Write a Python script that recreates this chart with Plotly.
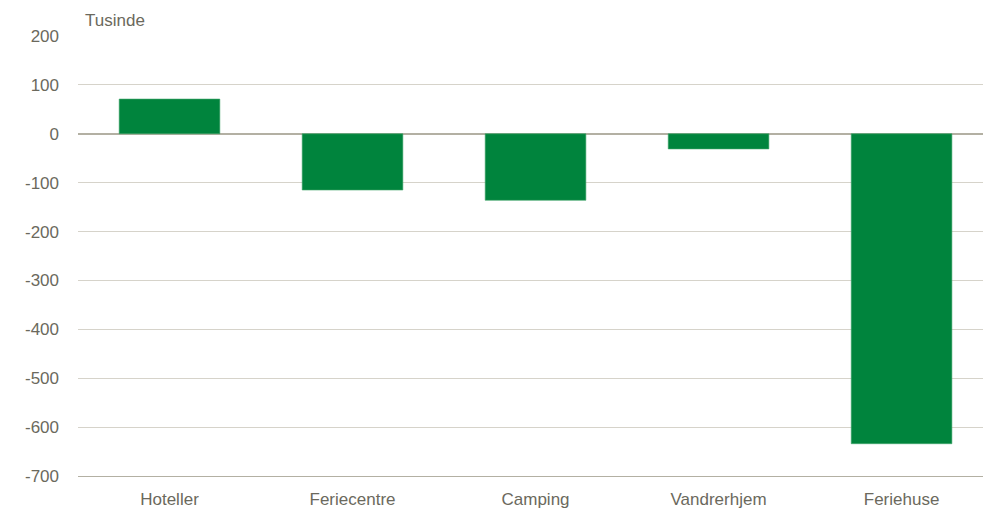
import plotly.graph_objects as go

categories = ["Hoteller", "Feriecentre", "Camping", "Vandrerhjem", "Feriehuse"]
values = [71, -115, -136, -31, -634]
y_ticks = [200, 100, 0, -100, -200, -300, -400, -500, -600, -700]
y_unit_label = "Tusinde"

text_color = "#6b695d"
font = dict(family="Liberation Sans, Arial, sans-serif", size=17, color=text_color)

fig = go.Figure(
    go.Bar(
        x=categories,
        y=values,
        marker=dict(color="#00843D", line=dict(color="#3fa56a", width=0.6)),
        width=0.55,
        hoverinfo="x+y",
    )
)

fig.update_layout(
    width=983,
    height=510,
    margin=dict(l=78, r=0, t=36, b=34, autoexpand=False),
    paper_bgcolor="white",
    plot_bgcolor="white",
    font=font,
    showlegend=False,
    xaxis=dict(
        type="category",
        range=[-0.5, 4.445],
        automargin=False,
        showgrid=False,
        zeroline=False,
        showline=True,
        linecolor="#b3b0a3",
        linewidth=1,
        ticks="",
        ticklabelstandoff=8,
        tickfont=font,
    ),
    yaxis=dict(
        range=[-700, 200],
        automargin=False,
        tickvals=y_ticks,
        ticktext=[str(v) for v in y_ticks],
        showgrid=True,
        gridcolor="#d6d3ca",
        gridwidth=1,
        zeroline=True,
        zerolinecolor="#b3b0a3",
        zerolinewidth=2,
        ticks="",
        ticklabelstandoff=18,
        tickfont=font,
    ),
    annotations=[
        dict(
            text=y_unit_label,
            xref="paper",
            yref="paper",
            x=(83 - 78) / 905,
            y=1 + (36 - 21) / 440,
            xanchor="left",
            yanchor="middle",
            showarrow=False,
            font=font,
        )
    ],
)

fig.write_html(
    "out.html",
    config={"displayModeBar": False},
    post_script="document.body.style.margin='0';document.body.style.overflow='hidden';",
)
